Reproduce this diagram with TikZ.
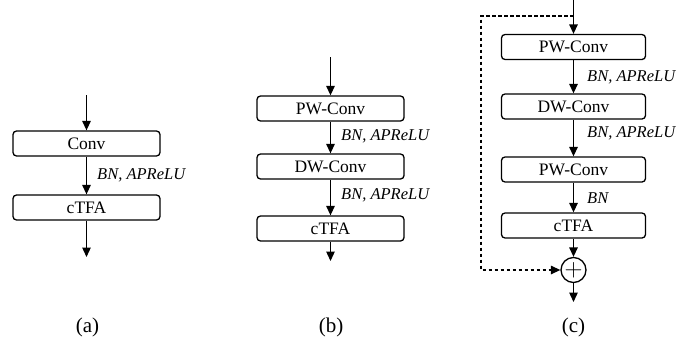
\documentclass[tikz,border=0pt]{standalone}
\usepackage{fontspec}
\setmainfont{Liberation Serif}
\usetikzlibrary{arrows.meta}
\begin{document}
\begin{tikzpicture}[x=1pt,y=-1pt,
  blk/.style={draw,line width=1.3pt,rounded corners=3.5pt,minimum height=25pt,inner sep=0pt,font=\fontsize{17.5}{19}\selectfont},
  lbl/.style={anchor=west,inner sep=0pt,font=\fontsize{16.5}{18}\selectfont\itshape},
  subcap/.style={font=\fontsize{21}{23}\selectfont},
  arr/.style={line width=1.3pt,-{Triangle[length=9.5pt,width=8.5pt]}},
  dsh/.style={line width=1.3pt,dash pattern=on 3.5pt off 2.5pt,-{Triangle[length=9.5pt,width=8.5pt]}}]
\useasboundingbox (0,0) rectangle (699,343);
% (a)
\node[blk,minimum width=147pt] (aconv) at (86.5,143.5) {Conv};
\node[blk,minimum width=147pt] (actfa) at (86.5,207.5) {cTFA};
\coordinate (ain) at (86.5,95);
\coordinate (aout) at (86.5,257);
\draw[arr] (ain) -- (aconv.north);
\draw[arr] (aconv.south) -- (actfa.north);
\draw[arr] (actfa.south) -- (aout);
\node[lbl] (al1) at (97,175.5) {BN, APReLU};
\node[subcap] (capa) at (87.5,327) {(a)};
% (b)
\node[blk,minimum width=147pt] (bpw) at (330.5,108.5) {PW-Conv};
\node[blk,minimum width=147pt] (bdw) at (330.5,166.5) {DW-Conv};
\node[blk,minimum width=147pt] (bctfa) at (330.5,228.5) {cTFA};
\coordinate (bin) at (330.5,57);
\coordinate (bout) at (330.5,261);
\draw[arr] (bin) -- (bpw.north);
\draw[arr] (bpw.south) -- (bdw.north);
\draw[arr] (bdw.south) -- (bctfa.north);
\draw[arr] (bctfa.south) -- (bout);
\node[lbl] (bl1) at (341,136.5) {BN, APReLU};
\node[lbl] (bl2) at (341,195.5) {BN, APReLU};
\node[subcap] (capb) at (331,327) {(b)};
% (c)
\node[blk,minimum width=144pt] (cpw) at (573.5,47) {PW-Conv};
\node[blk,minimum width=144pt] (cdw) at (573.5,106.5) {DW-Conv};
\node[blk,minimum width=144pt] (cpw2) at (573.5,169.5) {PW-Conv};
\node[blk,minimum width=144pt] (cctfa) at (573.5,225.5) {cTFA};
\node[draw,circle,line width=1.3pt,minimum size=25pt,inner sep=0pt,font=\fontsize{24}{24}\selectfont] (csum) at (573.5,270) {$+$};
\coordinate (cin) at (573.5,0);
\coordinate (csplit) at (573.5,16);
\coordinate (cleft) at (481,16);
\coordinate (cout) at (573.5,302);
\draw[arr] (cin) -- (cpw.north);
\draw[arr] (cpw.south) -- (cdw.north);
\draw[arr] (cdw.south) -- (cpw2.north);
\draw[arr] (cpw2.south) -- (cctfa.north);
\draw[arr] (cctfa.south) -- (csum.north);
\draw[arr] (csum.south) -- (cout);
\draw[dsh] (csplit) -- (cleft) |- (csum.west);
\node[lbl] (cl1) at (587,77.5) {BN, APReLU};
\node[lbl] (cl2) at (587,133.5) {BN, APReLU};
\node[lbl] (cl3) at (587,198) {BN};
\node[subcap] (capc) at (573.5,327) {(c)};
\end{tikzpicture}
\end{document}
